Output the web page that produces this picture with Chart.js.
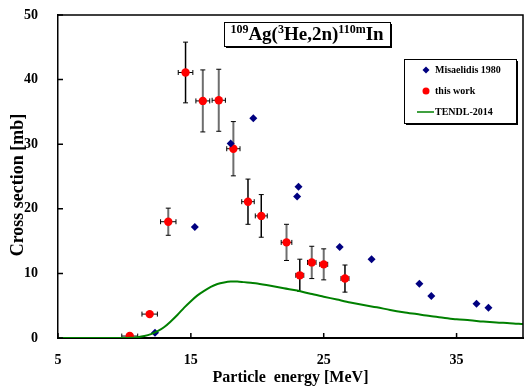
<!DOCTYPE html>
<html>
<head>
<meta charset="utf-8">
<script src="https://cdn.jsdelivr.net/npm/chart.js@4.4.1/dist/chart.umd.min.js"></script>
<style>
  html, body { margin: 0; padding: 0; background: #fff; }
</style>
</head>
<body>
<canvas id="xsChart" width="524" height="389"></canvas>
<script>
// Misaelidis 1980 (blue diamonds)
const misE = [12.3, 15.3, 18.0, 19.7, 23.0, 23.1, 26.2, 28.6, 32.2, 33.1, 36.5, 37.4];
const misS = [0.8, 17.2, 30.1, 34.0, 21.9, 23.4, 14.1, 12.2, 8.4, 6.5, 5.3, 4.7];

// this work (red dots with error bars)
const workE  = [10.4, 11.9, 13.3, 14.6, 15.9, 17.1, 18.2, 19.3, 20.3, 22.2, 23.2, 24.1, 25.0, 26.6];
const workS  = [0.3, 3.7, 18.0, 41.1, 36.7, 36.8, 29.3, 21.1, 18.9, 14.8, 9.7, 11.7, 11.4, 9.2];
const workDE = [0.6, 0.58, 0.58, 0.55, 0.52, 0.5, 0.5, 0.47, 0.45, 0.4, 0.3, 0.32, 0.3, 0.3];
const workDS = [0, 0, 2.1, 4.7, 4.8, 4.8, 4.2, 3.5, 3.3, 2.8, 2.5, 2.5, 2.4, 2.1];
const barGray = [false, false, true, false, true, true, true, false, false, true, false, true, true, false];

// TENDL-2014 curve
const tendlE = [5, 6, 7, 8, 9, 10, 10.5, 11, 11.5, 12, 12.5, 13, 13.5, 14, 14.5, 15, 15.5, 16, 16.5, 17, 17.5, 18, 18.5, 19, 19.5, 20, 21, 22, 23, 24, 25, 26, 27, 28, 29, 30, 31, 32, 33, 34, 35, 36, 37, 38, 39, 40];
const tendlS = [0, 0, 0, 0, 0, 0, 0.02, 0.12, 0.3, 0.6, 1.05, 1.7, 2.6, 3.6, 4.7, 5.7, 6.6, 7.3, 7.9, 8.35, 8.6, 8.75, 8.75, 8.65, 8.55, 8.45, 8.1, 7.7, 7.35, 6.85, 6.4, 5.95, 5.5, 5.1, 4.75, 4.35, 4.0, 3.7, 3.4, 3.15, 2.9, 2.75, 2.55, 2.4, 2.3, 2.15];

const xTicks = [5, 15, 25, 35];
const yTicks = [0, 10, 20, 30, 40, 50];

const SERIF = '"Liberation Serif", "DejaVu Serif", serif';
const BLUE = '#000080';
const RED = '#ff0000';
const GREEN = '#008000';

const toXY = (xs, ys) => xs.map((x, i) => ({ x: x, y: ys[i] }));

// error bars for "this work", drawn under the markers
const errorBars = {
  id: 'errorBars',
  beforeDatasetDraw(chart, args) {
    if (args.index !== 2) return;
    const ctx = chart.ctx;
    const xs = chart.scales.x, ys = chart.scales.y;
    ctx.save();
    for (let i = 0; i < workE.length; i++) {
      const px = xs.getPixelForValue(workE[i]);
      const py = ys.getPixelForValue(workS[i]);
      ctx.strokeStyle = barGray[i] ? '#6e6e6e' : '#000';
      ctx.lineWidth = barGray[i] ? 2 : 1.5;
      if (workDS[i] > 0) {
        const y1 = ys.getPixelForValue(workS[i] + workDS[i]);
        const y2 = ys.getPixelForValue(workS[i] - workDS[i]);
        ctx.beginPath();
        ctx.moveTo(px, y1); ctx.lineTo(px, y2);
        ctx.stroke();
        ctx.lineWidth = 1;
        ctx.strokeStyle = '#000';
        ctx.beginPath();
        ctx.moveTo(px - 2.5, y1); ctx.lineTo(px + 2.5, y1);
        ctx.moveTo(px - 2.5, y2); ctx.lineTo(px + 2.5, y2);
        ctx.stroke();
      }
      const x1 = xs.getPixelForValue(workE[i] - workDE[i]);
      const x2 = xs.getPixelForValue(workE[i] + workDE[i]);
      ctx.strokeStyle = '#000';
      ctx.lineWidth = 1;
      ctx.beginPath();
      ctx.moveTo(x1, py); ctx.lineTo(x2, py);
      ctx.moveTo(x1, py - 2.5); ctx.lineTo(x1, py + 2.5);
      ctx.moveTo(x2, py - 2.5); ctx.lineTo(x2, py + 2.5);
      ctx.stroke();
    }
    ctx.restore();
  }
};

// frame, inward ticks, y title, reaction box and legend box
const decorations = {
  id: 'decorations',
  afterDraw(chart) {
    const ctx = chart.ctx;
    const a = chart.chartArea;
    const xs = chart.scales.x, ys = chart.scales.y;
    ctx.save();

    // top and right frame lines
    ctx.strokeStyle = '#000';
    ctx.lineWidth = 1.5;
    ctx.beginPath();
    ctx.moveTo(a.left, a.top); ctx.lineTo(a.right, a.top); ctx.lineTo(a.right, a.bottom);
    ctx.stroke();

    // inward tick marks
    ctx.beginPath();
    xTicks.forEach(v => {
      const p = xs.getPixelForValue(v);
      ctx.moveTo(p, a.bottom); ctx.lineTo(p, a.bottom - 5);
    });
    yTicks.forEach(v => {
      const p = ys.getPixelForValue(v);
      ctx.moveTo(a.left, p); ctx.lineTo(a.left + 5, p);
    });
    ctx.stroke();

    // y axis title
    ctx.save();
    ctx.translate(18, 185);
    ctx.rotate(-Math.PI / 2);
    ctx.font = 'bold 18px ' + SERIF;
    ctx.fillStyle = '#000';
    ctx.textAlign = 'center';
    ctx.textBaseline = 'middle';
    ctx.fillText('Cross section [mb]', 0, 0);
    ctx.restore();

    // reaction title box
    const bx = 224, by = 22, bw = 166, bh = 24;
    ctx.fillStyle = '#000';
    ctx.fillRect(bx + 2, by + 2, bw, bh);
    ctx.fillStyle = '#fff';
    ctx.fillRect(bx, by, bw, bh);
    ctx.lineWidth = 1;
    ctx.strokeRect(bx + 0.5, by + 0.5, bw, bh);

    const parts = [
      ['109', true], ['Ag(', false], ['3', true], ['He,2n)', false], ['110m', true], ['In', false]
    ];
    const bigFont = 'bold 19px ' + SERIF;
    const supFont = 'bold 12px ' + SERIF;
    let total = 0;
    parts.forEach(p => { ctx.font = p[1] ? supFont : bigFont; total += ctx.measureText(p[0]).width; });
    let tx = bx + (bw - total) / 2;
    const baseY = by + 18;
    ctx.fillStyle = '#000';
    ctx.textBaseline = 'alphabetic';
    ctx.textAlign = 'left';
    parts.forEach(p => {
      ctx.font = p[1] ? supFont : bigFont;
      ctx.fillText(p[0], tx, p[1] ? baseY - 7 : baseY);
      tx += ctx.measureText(p[0]).width;
    });

    // legend box
    const lx = 404, ly = 59, lw = 112, lh = 64;
    ctx.fillStyle = '#000';
    ctx.fillRect(lx + 2, ly + 2, lw, lh);
    ctx.fillStyle = '#fff';
    ctx.fillRect(lx, ly, lw, lh);
    ctx.strokeStyle = '#000';
    ctx.lineWidth = 1;
    ctx.strokeRect(lx + 0.5, ly + 0.5, lw, lh);

    ctx.font = 'bold 10px ' + SERIF;
    ctx.textBaseline = 'middle';
    ctx.fillStyle = BLUE;
    ctx.beginPath();
    ctx.moveTo(426, 66.5); ctx.lineTo(429.5, 70); ctx.lineTo(426, 73.5); ctx.lineTo(422.5, 70);
    ctx.closePath(); ctx.fill();
    ctx.fillStyle = '#000';
    ctx.fillText('Misaelidis 1980', 435, 70);
    ctx.fillStyle = RED;
    ctx.beginPath(); ctx.arc(426, 91, 3.5, 0, Math.PI * 2); ctx.fill();
    ctx.fillStyle = '#000';
    ctx.fillText('this work', 435, 91);
    ctx.strokeStyle = GREEN;
    ctx.lineWidth = 1.5;
    ctx.beginPath(); ctx.moveTo(417, 112); ctx.lineTo(434, 112); ctx.stroke();
    ctx.fillStyle = '#000';
    ctx.fillText('TENDL-2014', 435, 112);

    ctx.restore();
  }
};

new Chart(document.getElementById('xsChart').getContext('2d'), {
  type: 'scatter',
  data: {
    datasets: [
      {
        label: 'TENDL-2014',
        data: toXY(tendlE, tendlS),
        showLine: true,
        borderColor: GREEN,
        borderWidth: 2,
        pointRadius: 0,
        tension: 0.3,
        fill: false
      },
      {
        label: 'Misaelidis 1980',
        data: toXY(misE, misS),
        pointStyle: 'rectRot',
        pointRadius: 4,
        backgroundColor: BLUE,
        borderColor: BLUE,
        borderWidth: 0
      },
      {
        label: 'this work',
        data: toXY(workE, workS),
        pointStyle: 'circle',
        pointRadius: 4.2,
        backgroundColor: RED,
        borderColor: RED,
        borderWidth: 0
      }
    ]
  },
  options: {
    responsive: false,
    animation: false,
    devicePixelRatio: 1,
    layout: { autoPadding: false, padding: { top: 15, right: 1, left: 0, bottom: 0 } },
    plugins: {
      legend: { display: false },
      tooltip: { enabled: false }
    },
    scales: {
      x: {
        type: 'linear',
        min: 5,
        max: 40,
        afterBuildTicks: scale => { scale.ticks = xTicks.map(v => ({ value: v })); },
        afterFit: scale => { scale.height = 51; scale.paddingLeft = 0; scale.paddingRight = 0; },
        grid: { display: false },
        border: { display: true, color: '#000', width: 2 },
        ticks: { color: '#000', font: { family: SERIF, size: 14, weight: 'bold' }, padding: 6, maxRotation: 0 },
        title: {
          display: true,
          text: 'Particle  energy [MeV]',
          color: '#000',
          font: { family: SERIF, size: 16, weight: 'bold' },
          padding: { top: 0, bottom: 1.5 }
        }
      },
      y: {
        type: 'linear',
        min: 0,
        max: 50,
        afterBuildTicks: scale => { scale.ticks = yTicks.map(v => ({ value: v })); },
        afterFit: scale => { scale.width = 58; scale.paddingTop = 0; scale.paddingBottom = 0; },
        grid: { display: false },
        border: { display: true, color: '#000', width: 1.5 },
        ticks: { color: '#000', font: { family: SERIF, size: 14, weight: 'bold' }, padding: 12 }
      }
    }
  },
  plugins: [errorBars, decorations]
});
</script>
</body>
</html>
